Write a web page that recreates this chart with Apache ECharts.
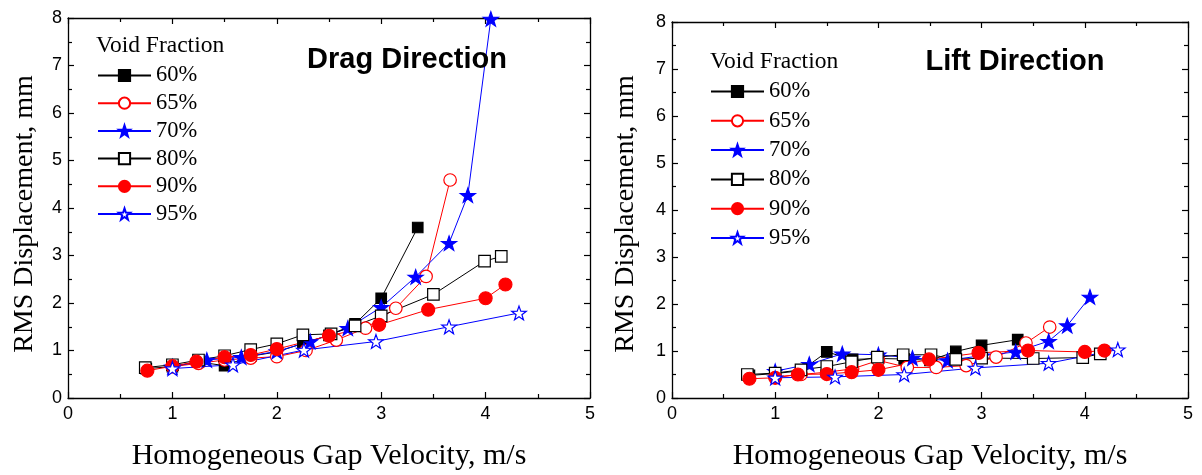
<!DOCTYPE html>
<html>
<head>
<meta charset="utf-8">
<script src="https://cdn.jsdelivr.net/npm/echarts@6/dist/echarts.min.js"></script>
<style>
  html, body { margin: 0; padding: 0; background: #fff; }
  #chart { width: 1202px; height: 475px; }
</style>
</head>
<body>
<div id="chart"></div>
<script>
// RMS displacement (mm) vs homogeneous gap velocity (m/s), by void fraction
const voidFractions = ['60%', '65%', '70%', '80%', '90%', '95%'];
const xTicks = [0, 1, 2, 3, 4, 5];
const yTicks = [0, 1, 2, 3, 4, 5, 6, 7, 8];

// Drag direction
const drag60 = [[0.75,0.62],[1.0,0.66],[1.25,0.76],[1.5,0.68],[1.75,0.88],[2.0,0.97],[2.25,1.15],[2.5,1.32],[2.75,1.56],[3.0,2.1],[3.35,3.59]];
const drag65 = [[1.0,0.66],[1.25,0.73],[1.5,0.8],[1.75,0.84],[2.0,0.87],[2.28,1.0],[2.57,1.22],[2.85,1.47],[3.14,1.89],[3.43,2.56],[3.66,4.59]];
const drag70 = [[1.0,0.66],[1.33,0.8],[1.66,0.86],[2.0,0.98],[2.32,1.19],[2.68,1.47],[3.0,1.91],[3.33,2.55],[3.65,3.26],[3.83,4.27],[4.05,7.98]];
const drag80 = [[0.74,0.64],[1.0,0.7],[1.25,0.8],[1.5,0.89],[1.75,1.02],[2.0,1.14],[2.25,1.33],[2.52,1.35],[2.75,1.52],[3.0,1.73],[3.5,2.18],[3.99,2.88],[4.15,2.98]];
const drag90 = [[0.76,0.575],[1.0,0.67],[1.23,0.765],[1.5,0.86],[1.75,0.905],[2.0,1.03],[2.5,1.31],[2.98,1.54],[3.45,1.86],[4.0,2.1],[4.19,2.39]];
const drag95 = [[1.0,0.62],[1.58,0.7],[2.26,1.01],[2.95,1.19],[3.65,1.5],[4.32,1.79]];

// Lift direction
const lift60 = [[0.75,0.48],[1.0,0.52],[1.25,0.58],[1.5,0.98],[1.75,0.82],[2.0,0.84],[2.25,0.83],[2.5,0.8],[2.75,0.99],[3.0,1.12],[3.35,1.24]];
const lift65 = [[1.0,0.45],[1.25,0.5],[1.5,0.55],[1.75,0.62],[2.0,0.8],[2.28,0.65],[2.56,0.65],[2.85,0.69],[3.14,0.87],[3.43,1.17],[3.66,1.51]];
const lift70 = [[1.0,0.57],[1.33,0.72],[1.65,0.94],[2.0,0.92],[2.33,0.85],[2.67,0.8],[3.0,0.9],[3.33,0.98],[3.65,1.21],[3.83,1.54],[4.05,2.15]];
const lift80 = [[0.73,0.5],[1.0,0.53],[1.25,0.6],[1.5,0.67],[1.74,0.77],[1.99,0.87],[2.24,0.92],[2.51,0.92],[2.75,0.82],[3.0,0.85],[3.5,0.84],[3.98,0.86],[4.15,0.94]];
const lift90 = [[0.75,0.41],[1.0,0.43],[1.22,0.5],[1.5,0.51],[1.74,0.55],[2.0,0.6],[2.49,0.82],[2.97,0.96],[3.45,1.01],[4.0,0.98],[4.19,1.01]];
const lift95 = [[1.0,0.43],[1.58,0.45],[2.25,0.5],[2.94,0.64],[3.65,0.74],[4.32,1.03]];

const dragData = [drag60, drag65, drag70, drag80, drag90, drag95];
const liftData = [lift60, lift65, lift70, lift80, lift90, lift95];

const STAR = 'path://M0,-10L2.35,-3.24L9.51,-3.09L3.8,1.24L5.88,8.09L0,4L-5.88,8.09L-3.8,1.24L-9.51,-3.09L-2.35,-3.24Z';
const markers = [
  { symbol: 'rect', size: 10.5, line: '#000', fill: '#000', border: '#000' },
  { symbol: 'circle', size: 12.5, line: '#ff0000', fill: '#fff', border: '#ff0000' },
  { symbol: STAR, size: 15, line: '#0000ff', fill: '#0000ff', border: '#0000ff' },
  { symbol: 'rect', size: 11.5, line: '#000', fill: '#fff', border: '#000' },
  { symbol: 'circle', size: 13, line: '#ff0000', fill: '#ff0000', border: '#ff0000' },
  { symbol: STAR, size: 14.5, line: '#0000ff', fill: '#fff', border: '#0000ff' }
];

const serif = 'Liberation Serif, Times New Roman, serif';
const sans = 'Liberation Sans, Arial, sans-serif';

const grids = [
  { left: 68, top: 18, width: 522, height: 380 },
  { left: 672, top: 22, width: 516, height: 376 }
];

const tickStyle = { color: '#000', width: 1.2 };

function xAxisPair(gi) {
  const base = {
    type: 'value', gridIndex: gi, min: 0, max: 5, interval: 1,
    axisLine: { onZero: false, lineStyle: { color: '#000', width: 1.3 } },
    axisTick: { inside: true, length: 6, lineStyle: tickStyle },
    minorTick: { show: true, splitNumber: 2, length: 4, lineStyle: tickStyle },
    splitLine: { show: false }
  };
  return [
    Object.assign({}, base, {
      position: 'bottom',
      axisLabel: { color: '#000', fontFamily: sans, fontSize: 18, margin: 7,
        formatter: v => xTicks.includes(v) ? String(v) : '' }
    }),
    Object.assign({}, base, { position: 'top', axisLabel: { show: false } })
  ];
}

function yAxisPair(gi) {
  const base = {
    type: 'value', gridIndex: gi, min: 0, max: 8, interval: 1,
    axisLine: { onZero: false, lineStyle: { color: '#000', width: 1.3 } },
    axisTick: { inside: true, length: 6, lineStyle: tickStyle },
    minorTick: { show: true, splitNumber: 2, length: 4, lineStyle: tickStyle },
    splitLine: { show: false }
  };
  return [
    Object.assign({}, base, {
      position: 'left',
      axisLabel: { color: '#000', fontFamily: sans, fontSize: 18, margin: 6,
        formatter: v => yTicks.includes(v) ? String(v) : '' }
    }),
    Object.assign({}, base, { position: 'right', axisLabel: { show: false } })
  ];
}

function seriesFor(data, gi) {
  return data.map((pts, i) => {
    const m = markers[i];
    return {
      name: voidFractions[i], type: 'line',
      xAxisIndex: gi * 2, yAxisIndex: gi * 2,
      data: pts,
      symbol: m.symbol, symbolSize: m.size, symbolKeepAspect: true,
      showSymbol: true, clip: false, animation: false,
      lineStyle: { color: m.line, width: 1 },
      itemStyle: { color: m.fill, borderColor: m.border, borderWidth: 1.2, opacity: 1 },
      emphasis: { disabled: true }
    };
  });
}

function legendAt(left, top, gap) {
  return {
    orient: 'vertical', left: left, top: top,
    data: voidFractions, itemWidth: 53, itemHeight: 14, itemGap: gap,
    textStyle: { color: '#000', fontFamily: serif, fontSize: 22.5, padding: 0 },
    selectedMode: false, padding: 0
  };
}

function text(x, y, str, font, extra) {
  return Object.assign({ type: 'text', x: x, y: y,
    style: { text: str, font: font, fill: '#000', textAlign: 'center', textVerticalAlign: 'middle' } }, extra || {});
}

const chart = echarts.init(document.getElementById('chart'), null, { renderer: 'canvas' });
chart.setOption({
  backgroundColor: '#fff',
  animation: false,
  grid: grids,
  xAxis: [...xAxisPair(0), ...xAxisPair(1)],
  yAxis: [...yAxisPair(0), ...yAxisPair(1)],
  title: [
    { text: 'Drag Direction', left: 402, top: 40, textAlign: 'center',
      textStyle: { fontFamily: sans, fontWeight: 'bold', fontSize: 29, color: '#000' } },
    { text: 'Lift Direction', left: 1010, top: 42, textAlign: 'center',
      textStyle: { fontFamily: sans, fontWeight: 'bold', fontSize: 29, color: '#000' } }
  ],
  legend: [legendAt(97, 64, 4.7), legendAt(710, 80, 6.3)],
  graphic: [
    { type: 'text', left: 96, top: 34,
      style: { text: 'Void Fraction', font: '23.5px ' + serif, fill: '#000' } },
    { type: 'text', left: 710, top: 50,
      style: { text: 'Void Fraction', font: '23.5px ' + serif, fill: '#000' } },
    text(329, 456, 'Homogeneous Gap Velocity, m/s', '30px ' + serif),
    text(930, 456, 'Homogeneous Gap Velocity, m/s', '30px ' + serif),
    text(25, 214, 'RMS Displacement, mm', '28px ' + serif, { rotation: Math.PI / 2 }),
    text(626, 214, 'RMS Displacement, mm', '28px ' + serif, { rotation: Math.PI / 2 })
  ],
  series: [...seriesFor(dragData, 0), ...seriesFor(liftData, 1)]
});
</script>
</body>
</html>
